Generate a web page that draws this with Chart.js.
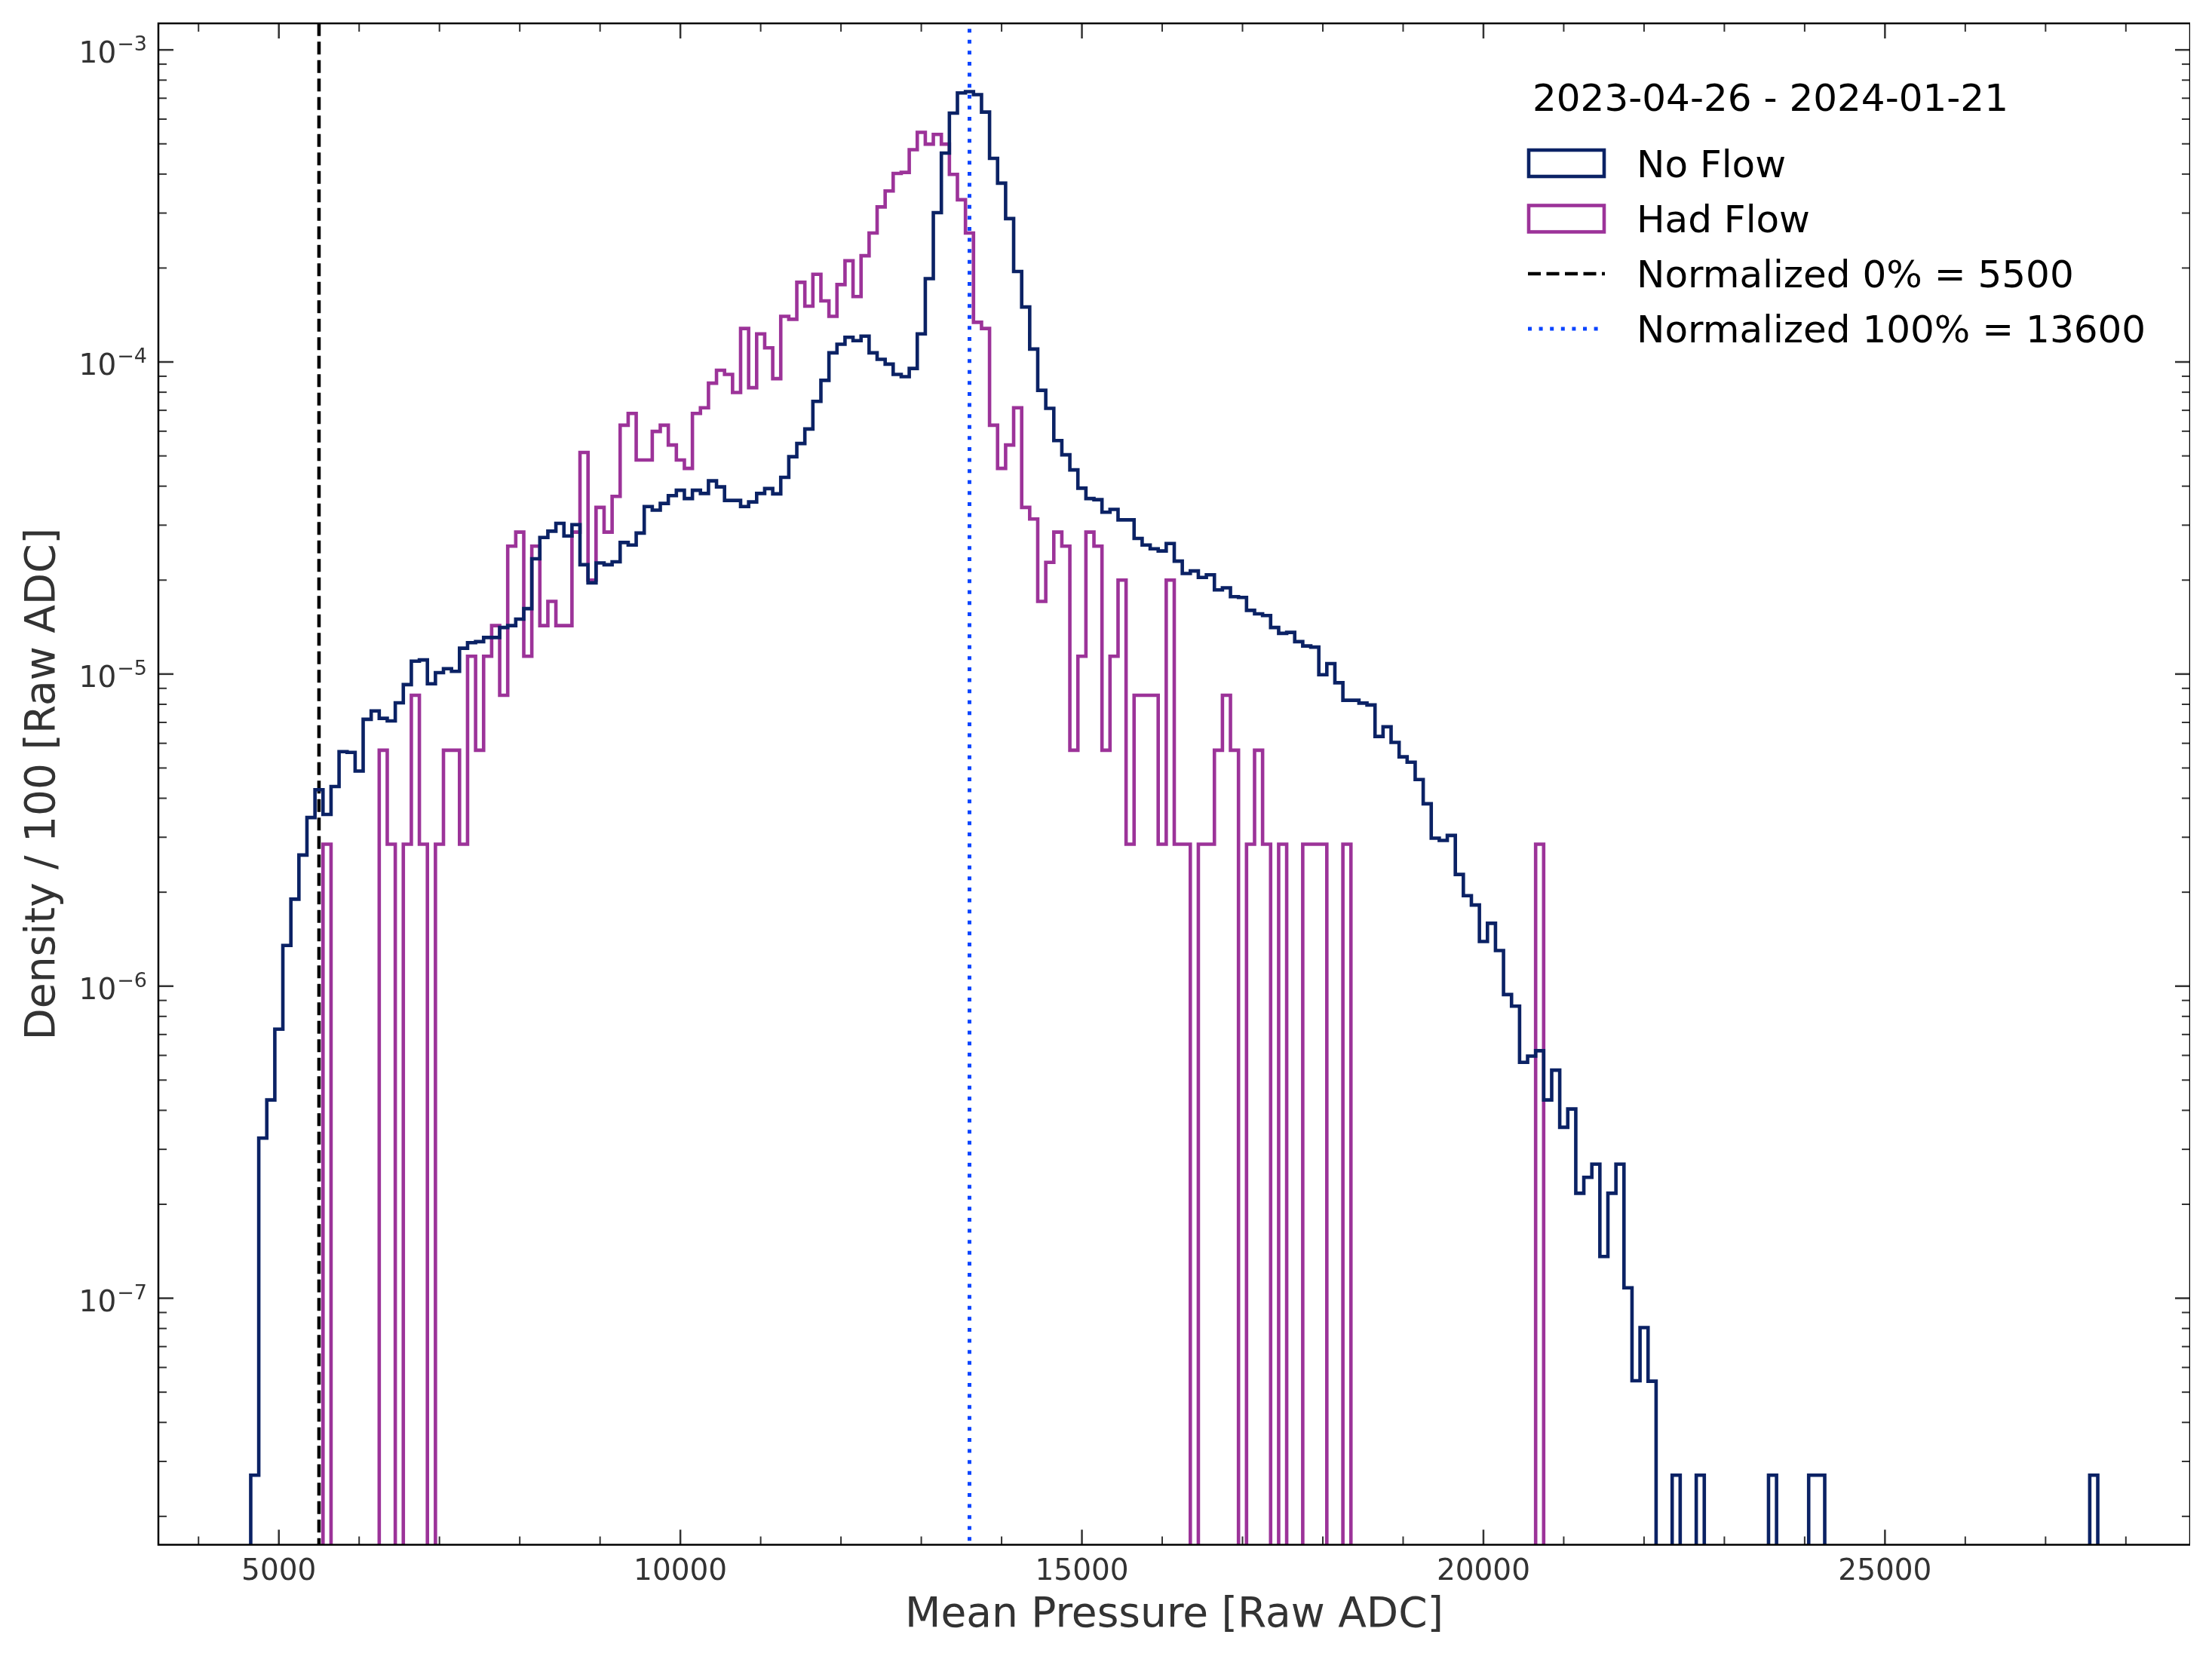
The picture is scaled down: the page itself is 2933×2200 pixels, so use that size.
<!DOCTYPE html>
<html>
<head>
<meta charset="utf-8">
<script src="https://cdn.jsdelivr.net/npm/chart.js@4.4.1/dist/chart.umd.min.js"></script>
<style>
html,body{margin:0;padding:0;background:#ffffff;overflow:hidden;}
#wrap{width:2933px;height:2200px;position:relative;background:#ffffff;}
canvas{display:block;}
</style>
</head>
<body>
<div id="wrap"><canvas id="c" width="2904" height="2200"></canvas></div>
<script>
// ---------------- DATA ----------------
// Histogram bins: 230 bins of width 100 starting at 4650 (Raw ADC)
const binStart = 4650;
const binWidth = 100;

// "No Flow" density per bin (0 = empty bin)
const noFlow = [
  2.71e-8, 3.26e-7, 4.32e-7, 7.28e-7, 1.35e-6, 1.90e-6, 2.63e-6, 3.47e-6, 4.26e-6, 3.55e-6,
  4.36e-6, 5.64e-6, 5.61e-6, 4.89e-6, 7.16e-6, 7.62e-6, 7.21e-6, 7.08e-6, 8.09e-6, 9.25e-6,
  1.10e-5, 1.11e-5, 9.31e-6, 1.01e-5, 1.04e-5, 1.02e-5, 1.21e-5, 1.26e-5, 1.27e-5, 1.31e-5,
  1.31e-5, 1.41e-5, 1.43e-5, 1.50e-5, 1.62e-5, 2.34e-5, 2.74e-5, 2.87e-5, 3.04e-5, 2.77e-5,
  3.01e-5, 2.24e-5, 1.96e-5, 2.27e-5, 2.24e-5, 2.29e-5, 2.64e-5, 2.59e-5, 2.83e-5, 3.44e-5,
  3.35e-5, 3.52e-5, 3.73e-5, 3.88e-5, 3.65e-5, 3.88e-5, 3.79e-5, 4.16e-5, 3.98e-5, 3.60e-5,
  3.60e-5, 3.44e-5, 3.56e-5, 3.79e-5, 3.93e-5, 3.78e-5, 4.27e-5, 4.97e-5, 5.48e-5, 6.10e-5,
  7.48e-5, 8.73e-5, 1.07e-4, 1.14e-4, 1.20e-4, 1.17e-4, 1.21e-4, 1.07e-4, 1.02e-4, 9.84e-5,
  9.12e-5, 8.97e-5, 9.53e-5, 1.23e-4, 1.85e-4, 3.01e-4, 4.67e-4, 6.27e-4, 7.28e-4, 7.35e-4,
  7.19e-4, 6.32e-4, 4.49e-4, 3.74e-4, 2.88e-4, 1.95e-4, 1.50e-4, 1.10e-4, 8.11e-5, 7.10e-5,
  5.60e-5, 5.04e-5, 4.51e-5, 3.94e-5, 3.65e-5, 3.62e-5, 3.30e-5, 3.37e-5, 3.12e-5, 3.12e-5,
  2.72e-5, 2.59e-5, 2.52e-5, 2.48e-5, 2.62e-5, 2.30e-5, 2.10e-5, 2.14e-5, 2.04e-5, 2.08e-5,
  1.86e-5, 1.89e-5, 1.77e-5, 1.76e-5, 1.60e-5, 1.56e-5, 1.54e-5, 1.41e-5, 1.35e-5, 1.36e-5,
  1.27e-5, 1.23e-5, 1.22e-5, 9.95e-6, 1.08e-5, 9.38e-6, 8.24e-6, 8.24e-6, 8.07e-6, 7.96e-6,
  6.31e-6, 6.78e-6, 6.04e-6, 5.43e-6, 5.22e-6, 4.59e-6, 3.84e-6, 2.98e-6, 2.93e-6, 3.04e-6,
  2.28e-6, 1.95e-6, 1.82e-6, 1.39e-6, 1.59e-6, 1.30e-6, 9.40e-7, 8.63e-7, 5.70e-7, 5.97e-7,
  6.21e-7, 4.32e-7, 5.38e-7, 3.53e-7, 4.04e-7, 2.17e-7, 2.44e-7, 2.69e-7, 1.36e-7, 2.17e-7,
  2.69e-7, 1.08e-7, 5.44e-8, 8.05e-8, 5.42e-8, 0, 0, 2.71e-8, 0, 0,
  2.71e-8, 0, 0, 0, 0, 0, 0, 0, 0, 2.71e-8,
  0, 0, 0, 0, 2.71e-8, 2.71e-8, 0, 0, 0, 0,
  0, 0, 0, 0, 0, 0, 0, 0, 0, 0,
  0, 0, 0, 0, 0, 0, 0, 0, 0, 0,
  0, 0, 0, 0, 0, 0, 0, 0, 0, 2.71e-8
];

// "Had Flow" density per bin (0 = empty bin)
const hadFlow = [
  0, 0, 0, 0, 0, 0, 0, 0, 0, 2.85e-6,
  0, 0, 0, 0, 0, 0, 5.70e-6, 2.85e-6, 0, 2.85e-6,
  8.55e-6, 2.85e-6, 0, 2.85e-6, 5.70e-6, 5.70e-6, 2.85e-6, 1.14e-5, 5.70e-6, 1.14e-5,
  1.43e-5, 8.55e-6, 2.57e-5, 2.85e-5, 1.14e-5, 2.57e-5, 1.43e-5, 1.71e-5, 1.43e-5, 1.43e-5,
  2.85e-5, 5.13e-5, 2.00e-5, 3.42e-5, 2.85e-5, 3.71e-5, 6.27e-5, 6.84e-5, 4.85e-5, 4.85e-5,
  5.99e-5, 6.27e-5, 5.42e-5, 4.85e-5, 4.56e-5, 6.84e-5, 7.13e-5, 8.55e-5, 9.41e-5, 9.12e-5,
  7.98e-5, 1.28e-4, 8.27e-5, 1.23e-4, 1.11e-4, 8.84e-5, 1.40e-4, 1.37e-4, 1.80e-4, 1.51e-4,
  1.91e-4, 1.57e-4, 1.40e-4, 1.77e-4, 2.11e-4, 1.62e-4, 2.19e-4, 2.59e-4, 3.14e-4, 3.53e-4,
  4.02e-4, 4.05e-4, 4.79e-4, 5.44e-4, 4.99e-4, 5.36e-4, 4.99e-4, 3.99e-4, 3.31e-4, 2.59e-4,
  1.34e-4, 1.28e-4, 6.27e-5, 4.56e-5, 5.42e-5, 7.13e-5, 3.42e-5, 3.14e-5, 1.71e-5, 2.28e-5,
  2.85e-5, 2.57e-5, 5.70e-6, 1.14e-5, 2.85e-5, 2.57e-5, 5.70e-6, 1.14e-5, 2.00e-5, 2.85e-6,
  8.55e-6, 8.55e-6, 8.55e-6, 2.85e-6, 2.00e-5, 2.85e-6, 2.85e-6, 0, 2.85e-6, 2.85e-6,
  5.70e-6, 8.55e-6, 5.70e-6, 0, 2.85e-6, 5.70e-6, 2.85e-6, 0, 2.85e-6, 0,
  0, 2.85e-6, 2.85e-6, 2.85e-6, 0, 0, 2.85e-6, 0, 0, 0,
  0, 0, 0, 0, 0, 0, 0, 0, 0, 0,
  0, 0, 0, 0, 0, 0, 0, 0, 0, 0,
  2.85e-6, 0, 0, 0, 0, 0, 0, 0, 0, 0,
  0, 0, 0, 0, 0, 0, 0, 0, 0, 0,
  0, 0, 0, 0, 0, 0, 0, 0, 0, 0,
  0, 0, 0, 0, 0, 0, 0, 0, 0, 0,
  0, 0, 0, 0, 0, 0, 0, 0, 0, 0,
  0, 0, 0, 0, 0, 0, 0, 0, 0, 0,
  0, 0, 0, 0, 0, 0, 0, 0, 0, 0
];

const seriesLabels = ['No Flow', 'Had Flow'];
const normalized0 = 5500;
const normalized100 = 13600;
const refLabels = ['Normalized 0% = 5500', 'Normalized 100% = 13600'];
const legendTitle = '2023-04-26 - 2024-01-21';

const xTickValues = [5000, 10000, 15000, 20000, 25000];
const xTickLabels = ['5000', '10000', '15000', '20000', '25000'];
const yTickValues = [1e-7, 1e-6, 1e-5, 1e-4, 1e-3];
const yTickBase = '10';
const yTickExponents = ['\u22127', '\u22126', '\u22125', '\u22124', '\u22123'];

const xTitle = 'Mean Pressure [Raw ADC]';
const yTitle = 'Density / 100 [Raw ADC]';

// ---------------- STYLE ----------------
const NAVY = '#0b2265';
const PURPLE = '#9c3399';
const BLUE = '#0a44ff';
const FONT = 'DejaVu Sans';
const X_MIN = 3500, X_MAX = 28800;
const Y_MIN = 1.622e-8, Y_MAX = 1.216e-3;
const FLOOR = 1e-10;

// build step-outline points from bin edges and values
function stepPoints(vals) {
  const pts = [{x: binStart, y: FLOOR}];
  vals.forEach((v, i) => {
    const yv = v > 0 ? v : FLOOR;
    pts.push({x: binStart + i * binWidth, y: yv});
    pts.push({x: binStart + (i + 1) * binWidth, y: yv});
  });
  pts.push({x: binStart + vals.length * binWidth, y: FLOOR});
  return pts;
}

const decorations = {
  id: 'decorations',
  afterDatasetsDraw(chart) {
    const {ctx, chartArea: a, scales: {x, y}} = chart;
    ctx.save();
    // inward ticks on all four sides
    ctx.strokeStyle = '#333333';
    const xMinor = [];
    for (let v = 4000; v <= 28000; v += 1000) if (!xTickValues.includes(v)) xMinor.push(v);
    const yMinor = [];
    for (let d = -8; d <= -3; d++) for (let m = 2; m <= 9; m++) {
      const v = m * Math.pow(10, d);
      if (v > Y_MIN && v < Y_MAX) yMinor.push(v);
    }
    function xt(vals, len, w) {
      ctx.lineWidth = w;
      vals.forEach(v => {
        const px = x.getPixelForValue(v);
        ctx.beginPath(); ctx.moveTo(px, a.bottom); ctx.lineTo(px, a.bottom - len); ctx.stroke();
        ctx.beginPath(); ctx.moveTo(px, a.top); ctx.lineTo(px, a.top + len); ctx.stroke();
      });
    }
    function yt(vals, len, w) {
      ctx.lineWidth = w;
      vals.forEach(v => {
        const py = y.getPixelForValue(v);
        ctx.beginPath(); ctx.moveTo(a.left, py); ctx.lineTo(a.left + len, py); ctx.stroke();
        ctx.beginPath(); ctx.moveTo(a.right, py); ctx.lineTo(a.right - len, py); ctx.stroke();
      });
    }
    xt(xTickValues, 20, 2.5);
    xt(xMinor, 11, 2);
    yt(yTickValues, 20, 2.5);
    yt(yMinor, 11, 2);
    // spines
    ctx.strokeStyle = '#000000';
    ctx.lineWidth = 2.5;
    ctx.strokeRect(a.left, a.top, a.right - a.left, a.bottom - a.top);

    // x tick labels
    ctx.fillStyle = '#333333';
    ctx.textBaseline = 'alphabetic';
    ctx.textAlign = 'center';
    ctx.font = '39px "' + FONT + '"';
    xTickValues.forEach((v, i) => {
      ctx.fillText(xTickLabels[i], x.getPixelForValue(v), a.bottom + 46);
    });

    // y tick labels: 10 with superscript exponent (mathtext style)
    ctx.textAlign = 'left';
    const rightEdge = a.left - 16;
    yTickValues.forEach((v, i) => {
      const py = y.getPixelForValue(v);
      ctx.font = '39px "' + FONT + '"';
      const wb = ctx.measureText(yTickBase).width;
      ctx.font = '27px "' + FONT + '"';
      const we = ctx.measureText(yTickExponents[i]).width;
      const x0 = rightEdge - wb - we;
      ctx.font = '39px "' + FONT + '"';
      ctx.fillText(yTickBase, x0, py + 17);
      ctx.font = '27px "' + FONT + '"';
      ctx.fillText(yTickExponents[i], x0 + wb + 1, py + 1);
    });

    // legend
    ctx.fillStyle = '#000000';
    ctx.font = '50px "' + FONT + '"';
    ctx.textAlign = 'left';
    ctx.textBaseline = 'alphabetic';
    ctx.fillText(legendTitle, 2032, 147);
    const tx = 2170;
    ctx.lineWidth = 4.6;
    ctx.setLineDash([]);
    ctx.strokeStyle = NAVY;
    ctx.strokeRect(2027, 199, 100, 35);
    ctx.strokeStyle = PURPLE;
    ctx.strokeRect(2027, 272.5, 100, 35);
    ctx.strokeStyle = '#000000';
    ctx.lineWidth = 4.6;
    ctx.setLineDash([17, 7.5]);
    ctx.beginPath(); ctx.moveTo(2026, 363); ctx.lineTo(2128, 363); ctx.stroke();
    ctx.strokeStyle = BLUE;
    ctx.lineWidth = 5;
    ctx.setLineDash([5, 9.6]);
    ctx.beginPath(); ctx.moveTo(2026, 436); ctx.lineTo(2128, 436); ctx.stroke();
    ctx.setLineDash([]);
    ctx.fillStyle = '#000000';
    ctx.fillText(seriesLabels[0], tx, 234.5);
    ctx.fillText(seriesLabels[1], tx, 308);
    ctx.fillText(refLabels[0], tx, 381);
    ctx.fillText(refLabels[1], tx, 454);
    ctx.restore();
  }
};

const ctx = document.getElementById('c').getContext('2d');
new Chart(ctx, {
  type: 'line',
  data: {
    datasets: [
      {label: seriesLabels[0], data: stepPoints(noFlow), borderColor: NAVY, borderWidth: 4.6,
       pointRadius: 0, pointHoverRadius: 0, tension: 0, fill: false, clip: 0, borderJoinStyle: 'miter', borderCapStyle: 'butt'},
      {label: seriesLabels[1], data: stepPoints(hadFlow), borderColor: PURPLE, borderWidth: 4.6,
       pointRadius: 0, pointHoverRadius: 0, tension: 0, fill: false, clip: 0, borderJoinStyle: 'miter', borderCapStyle: 'butt'},
      {label: refLabels[0], data: [{x: normalized0, y: FLOOR}, {x: normalized0, y: 1}], borderColor: '#000000',
       borderWidth: 4.6, borderDash: [17, 7.5], pointRadius: 0, pointHoverRadius: 0, fill: false, clip: 0},
      {label: refLabels[1], data: [{x: normalized100, y: FLOOR}, {x: normalized100, y: 1}], borderColor: BLUE,
       borderWidth: 5, borderDash: [5, 9.6], pointRadius: 0, pointHoverRadius: 0, fill: false, clip: 0}
    ]
  },
  options: {
    responsive: false,
    animation: false,
    devicePixelRatio: 1,
    layout: {padding: {top: 31, right: 0, left: 0, bottom: 0}, autoPadding: false},
    plugins: {legend: {display: false}, tooltip: {enabled: false}},
    scales: {
      x: {
        type: 'linear', min: X_MIN, max: X_MAX,
        afterFit: s => { s.height = 151.5; s.paddingLeft = 0; s.paddingRight = 0; },
        afterBuildTicks: s => { s.ticks = xTickValues.map(v => ({value: v})); },
        grid: {display: false}, border: {display: false},
        ticks: {display: false},
        title: {display: true, text: xTitle, font: {family: FONT, size: 55}, color: '#333333',
                padding: {top: 0, bottom: 24}}
      },
      y: {
        type: 'logarithmic', min: Y_MIN, max: Y_MAX,
        afterFit: s => { s.width = 210; s.paddingTop = 0; s.paddingBottom = 0; },
        afterBuildTicks: s => { s.ticks = yTickValues.map(v => ({value: v})); },
        grid: {display: false}, border: {display: false},
        ticks: {display: false},
        title: {display: true, text: yTitle, font: {family: FONT, size: 55}, color: '#333333',
                padding: {top: 25, bottom: 0}}
      }
    }
  },
  plugins: [decorations]
});
</script>
</body>
</html>
